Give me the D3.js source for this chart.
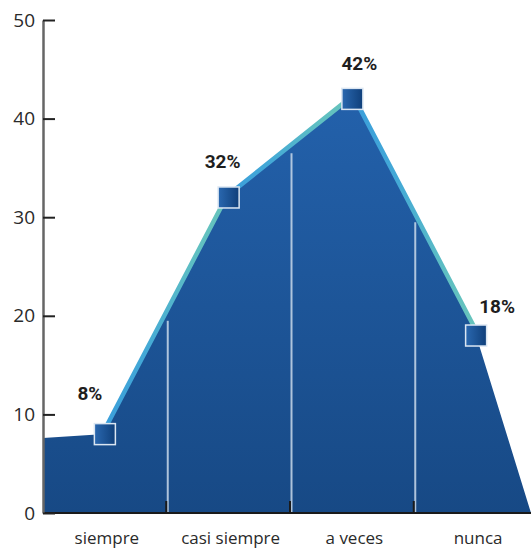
<!DOCTYPE html>
<html><head><meta charset="utf-8">
<script src="https://cdn.jsdelivr.net/npm/d3@7/dist/d3.min.js"></script>
<style>
html,body{margin:0;padding:0;background:#fff;}
svg{display:block;}
</style></head>
<body>
<svg id="chart" width="531" height="548"></svg>
<script>
// ---- data ----
const categories = ["siempre", "casi siempre", "a veces", "nunca"];
const values = [8, 32, 42, 18];
const valueLabels = ["8%", "32%", "42%", "18%"];
const yTicks = [0, 10, 20, 30, 40, 50];
const areaStartValue = 7.6;   // left edge of filled area
const areaEndValue = 0;       // right edge of filled area

// ---- layout ----
const W = 531, H = 548;
const plotLeft = 43, plotRight = 531, plotTop = 20, plotBottom = 513;
const labelOffsets = [[-15, -34], [-6, -29], [7, -29], [21, -23]];

const svg = d3.select("#chart");
const defs = svg.append("defs");

const x = d3.scaleBand().domain(categories).range([plotLeft, 538]).padding(0);
const y = d3.scaleLinear().domain([0, 50]).range([plotBottom, plotTop]);
const cx = c => x(c) + x.bandwidth() / 2;

// gradients
const areaGrad = defs.append("linearGradient").attr("id", "areaGrad")
  .attr("gradientUnits", "userSpaceOnUse")
  .attr("x1", 0).attr("x2", 0).attr("y1", y(42)).attr("y2", y(0));
areaGrad.append("stop").attr("offset", 0).attr("stop-color", "#2361ab");
areaGrad.append("stop").attr("offset", 1).attr("stop-color", "#174985");

const markGrad = defs.append("linearGradient").attr("id", "markGrad")
  .attr("x1", 0).attr("x2", 1).attr("y1", 0).attr("y2", 0);
markGrad.append("stop").attr("offset", 0).attr("stop-color", "#2a68b0");
markGrad.append("stop").attr("offset", 1).attr("stop-color", "#0f3f7a");

// points
const pts = categories.map((c, i) => ({px: cx(c), v: values[i]}));
const areaPts = [{px: plotLeft, v: areaStartValue}, ...pts, {px: plotRight, v: areaEndValue}];

// line segments (under area)
for (let i = 0; i < pts.length - 1; i++) {
  const a = pts[i], b = pts[i + 1];
  const gid = "seg" + i;
  const g = defs.append("linearGradient").attr("id", gid)
    .attr("gradientUnits", "userSpaceOnUse")
    .attr("x1", a.px).attr("y1", y(a.v)).attr("x2", b.px).attr("y2", y(b.v));
  g.append("stop").attr("offset", 0).attr("stop-color", "#3a9edb");
  g.append("stop").attr("offset", 0.35).attr("stop-color", "#44a9d6");
  g.append("stop").attr("offset", 0.75).attr("stop-color", "#5fbfc2");
  g.append("stop").attr("offset", 1).attr("stop-color", "#68c4bb");
  svg.append("line")
    .attr("x1", a.px).attr("y1", y(a.v)).attr("x2", b.px).attr("y2", y(b.v))
    .attr("stroke", `url(#${gid})`).attr("stroke-width", 9).attr("stroke-linecap", "round");
}

// area
const area = d3.area().x(d => d.px).y0(y(0)).y1(d => y(d.v));
svg.append("path").datum(areaPts).attr("d", area).attr("fill", "url(#areaGrad)");

// divider lines at band boundaries
function topAt(px) {
  for (let i = 0; i < areaPts.length - 1; i++) {
    const a = areaPts[i], b = areaPts[i + 1];
    if (px >= a.px && px <= b.px) {
      const t = (px - a.px) / (b.px - a.px);
      return y(a.v + t * (b.v - a.v));
    }
  }
  return y(0);
}
const bounds = categories.slice(1).map(c => x(c));
svg.selectAll(".div").data(bounds).join("line")
  .attr("x1", d => d + 1).attr("x2", d => d + 1)
  .attr("y1", y(0)).attr("y2", d => topAt(d) + 5)
  .attr("stroke", "#c9d9ea").attr("stroke-width", 2).attr("opacity", 0.85);

// x axis line and inner ticks
svg.append("line").attr("x1", plotLeft).attr("x2", plotRight)
  .attr("y1", y(0)).attr("y2", y(0)).attr("stroke", "#1a1a1a").attr("stroke-width", 2);
svg.selectAll(".xt").data(bounds).join("line")
  .attr("x1", d => d - 0.5).attr("x2", d => d - 0.5)
  .attr("y1", y(0)).attr("y2", y(0) - 12)
  .attr("stroke", "#1a1a1a").attr("stroke-width", 2);

// category labels
svg.selectAll(".cat").data(categories).join("text")
  .attr("x", d => cx(d) + 2).attr("y", 544)
  .attr("text-anchor", "middle")
  .attr("font-family", "Open Sans, sans-serif").attr("font-size", 17)
  .attr("fill", "#2a2a2a").text(d => d);

// y axis
const yAxis = d3.axisLeft(y).tickValues(yTicks).tickSizeInner(-12).tickSizeOuter(0).tickPadding(8);
const ya = svg.append("g").attr("transform", `translate(${plotLeft},0)`).call(yAxis);
ya.select(".domain").attr("stroke", "#666").attr("stroke-width", 2.5);
ya.selectAll(".tick line").attr("stroke", "#222").attr("stroke-width", 2);
ya.selectAll(".tick text").attr("font-family", "Open Sans, sans-serif").attr("font-size", 19)
  .attr("fill", "#2a2a2a");

// markers
const ms = 21;
svg.selectAll(".mk").data(pts).join("rect")
  .attr("x", d => d.px - ms / 2).attr("y", d => y(d.v) - ms / 2)
  .attr("width", ms).attr("height", ms)
  .attr("fill", "url(#markGrad)").attr("stroke", "#dbe6f2").attr("stroke-width", 1.5);

// value labels
svg.selectAll(".vl").data(pts).join("text")
  .attr("x", (d, i) => d.px + labelOffsets[i][0])
  .attr("y", (d, i) => y(d.v) + labelOffsets[i][1])
  .attr("text-anchor", "middle")
  .attr("font-family", "Roboto, sans-serif")
  .attr("font-weight", "bold").attr("font-size", 19).attr("fill", "#1e1e1e")
  .text((d, i) => valueLabels[i]);
</script>
</body></html>
